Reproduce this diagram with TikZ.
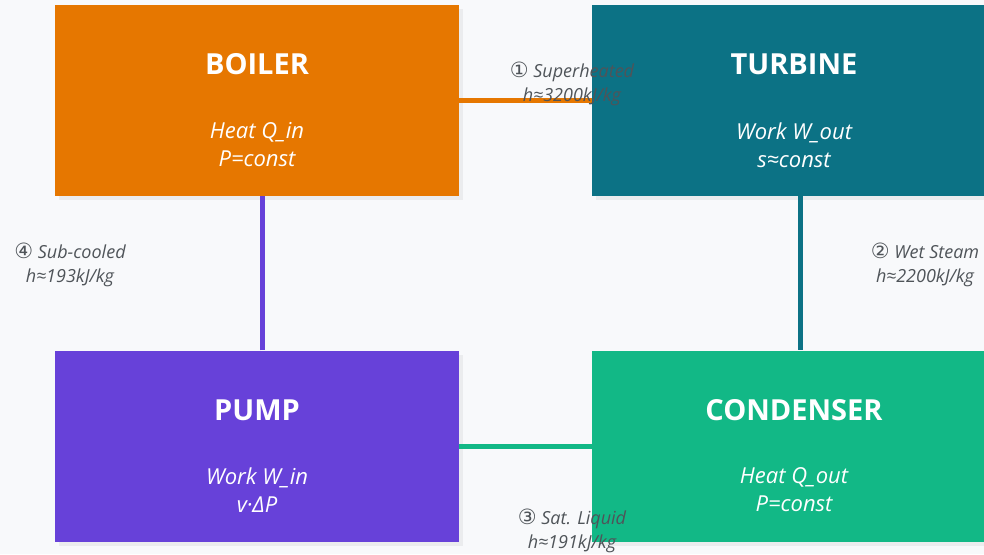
\documentclass[tikz,border=0pt]{standalone}
\usepackage{fontspec}
\setmainfont{Open Sans}
\newfontfamily\symfont{DejaVu Sans}
\usetikzlibrary{shadows}

\definecolor{boilerc}{HTML}{E67700}
\definecolor{turbinec}{HTML}{0C7285}
\definecolor{pumpc}{HTML}{6741D9}
\definecolor{condc}{HTML}{12B886}
\definecolor{labelc}{HTML}{4F5459}
\definecolor{bgc}{HTML}{F8F9FB}

\newcommand{\stno}[1]{{\upshape\symfont\fontsize{21}{24}\selectfont #1}}

\tikzset{
  unit/.style={rectangle, minimum width=404pt, minimum height=191pt,
    text=white, align=center, inner sep=0pt,
    drop shadow={opacity=0.10, shadow xshift=4pt, shadow yshift=-4pt}},
  title/.style={font=\fontsize{29}{30}\selectfont\bfseries, text=white},
  sub/.style={font=\fontsize{22}{28}\selectfont\itshape, text=white, align=center},
  pipe/.style={line width=5pt},
  state/.style={font=\fontsize{18}{24}\selectfont\itshape, text=labelc, align=center}
}

\begin{document}
\begin{tikzpicture}[x=1pt, y=1pt]
  \useasboundingbox (0,0) rectangle (984,-554);
  \fill[bgc] (0,0) rectangle (984,-554);
  \clip (0,0) rectangle (984,-554);

  % components
  \node[unit, fill=boilerc]  (boiler)    at (257,-100) {};
  \node[unit, fill=turbinec] (turbine)   at (794,-100) {};
  \node[unit, fill=pumpc]    (pump)      at (257,-446) {};
  \node[unit, fill=condc]    (condenser) at (794,-446) {};

  % pipes
  \draw[pipe, boilerc]  (boiler.east) -- (turbine.west);
  \draw[pipe, turbinec] ([xshift=6pt]turbine.south) -- ([xshift=6pt]condenser.north);
  \draw[pipe, condc]    (condenser.west) -- (pump.east);
  \draw[pipe, pumpc]    ([xshift=5pt]pump.north) -- ([xshift=5pt]boiler.south);

  % texts
  \node[title] (boilert)    at (257,-64)  {BOILER};
  \node[sub]   (boilers)    at (257,-145) {Heat Q\_in\\P=const};
  \node[title] (turbinet)   at (794,-64)  {TURBINE};
  \node[sub]   (turbines)   at (794,-145) {Work W\_out\\s≈const};
  \node[title] (pumpt)      at (257,-410) {PUMP};
  \node[sub]   (pumps)      at (257,-490) {Work W\_in\\v·ΔP};
  \node[title] (condensert) at (794,-410) {CONDENSER};
  \node[sub]   (condensers) at (794,-490) {Heat Q\_out\\P=const};

  % states
  \node[state] (s1) at (572,-84)  {\stno{①} Superheated\\h≈3200kJ/kg};
  \node[state] (s2) at (925,-265) {\stno{②} Wet Steam\\h≈2200kJ/kg};
  \node[state] (s3) at (572,-531) {\stno{③} Sat. Liquid\\h≈191kJ/kg};
  \node[state] (s4) at (70,-265)  {\stno{④} Sub-cooled\\h≈193kJ/kg};
\end{tikzpicture}
\end{document}
